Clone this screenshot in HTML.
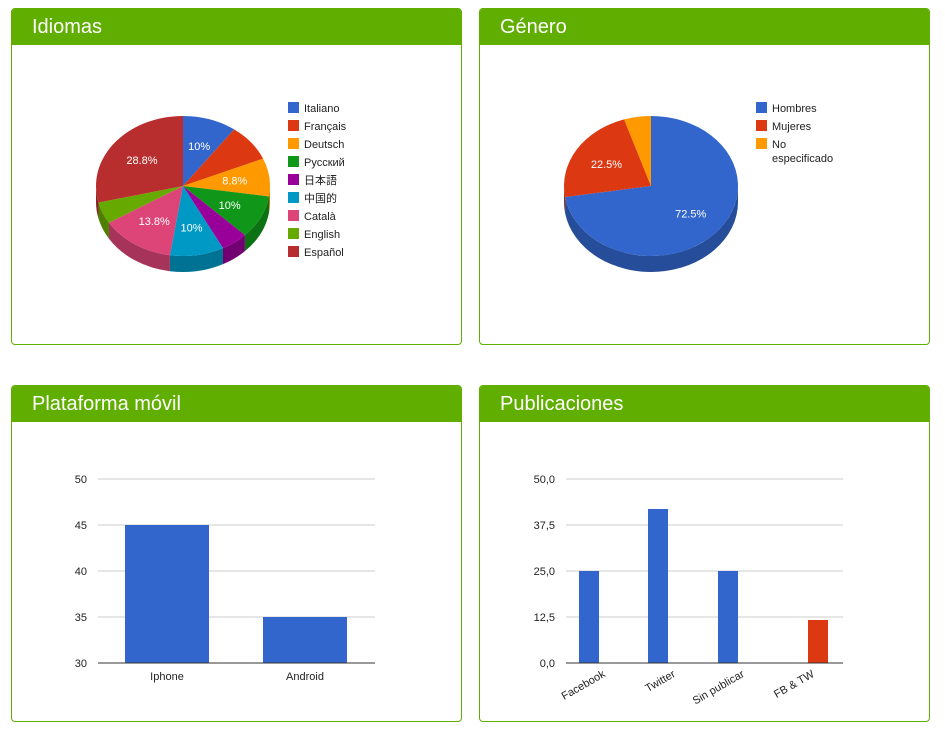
<!DOCTYPE html>
<html><head><meta charset="utf-8"><style>
body{margin:0;background:#fff;width:945px;height:747px;overflow:hidden;font-family:"Liberation Sans","Noto Sans CJK JP",sans-serif}
.p{position:absolute;border:1px solid #5fae00;border-radius:4px;background:#fff;width:449px;height:335px}
.h{background:#5fae00;height:36px;color:#fff;font-size:20px;line-height:36px;padding-left:20px;border-radius:3px 3px 0 0}
svg{position:absolute;left:0;top:0}
</style></head><body>
<div class="p" style="left:11px;top:8px"><div class="h">Idiomas</div></div>
<div class="p" style="left:479px;top:8px"><div class="h">Género</div></div>
<div class="p" style="left:11px;top:385px"><div class="h">Plataforma móvil</div></div>
<div class="p" style="left:479px;top:385px"><div class="h">Publicaciones</div></div>
<svg id="s" width="945" height="747" font-family="Liberation Sans, Noto Sans CJK JP, sans-serif" font-size="11">
<g fill="#222">
<g stroke="#ccc"><line x1="98" x2="375" y1="479" y2="479"/><line x1="98" x2="375" y1="525" y2="525"/><line x1="98" x2="375" y1="571" y2="571"/><line x1="98" x2="375" y1="617" y2="617"/>
<line x1="566" x2="843" y1="479" y2="479"/><line x1="566" x2="843" y1="525" y2="525"/><line x1="566" x2="843" y1="571" y2="571"/><line x1="566" x2="843" y1="617" y2="617"/></g>
<text x="87" y="483" text-anchor="end">50</text><text x="87" y="529" text-anchor="end">45</text><text x="87" y="575" text-anchor="end">40</text><text x="87" y="621" text-anchor="end">35</text><text x="87" y="667" text-anchor="end">30</text>
<rect x="125" y="525" width="84" height="138" fill="#3366cc"/><rect x="263" y="617" width="84" height="46" fill="#3366cc"/>
<line x1="98" x2="375" y1="663" y2="663" stroke="#333"/>
<text x="167" y="680" text-anchor="middle">Iphone</text><text x="305" y="680" text-anchor="middle">Android</text>
<text x="555" y="483" text-anchor="end">50,0</text><text x="555" y="529" text-anchor="end">37,5</text><text x="555" y="575" text-anchor="end">25,0</text><text x="555" y="621" text-anchor="end">12,5</text><text x="555" y="667" text-anchor="end">0,0</text>
<rect x="579" y="571" width="20" height="92" fill="#3366cc"/><rect x="648" y="509" width="20" height="154" fill="#3366cc"/><rect x="718" y="571" width="20" height="92" fill="#3366cc"/><rect x="808" y="620" width="20" height="43" fill="#dc3912"/>
<line x1="566" x2="843" y1="663" y2="663" stroke="#333"/>
<text transform="translate(606,676) rotate(-30)" text-anchor="end">Facebook</text>
<text transform="translate(676,676) rotate(-30)" text-anchor="end">Twitter</text>
<text transform="translate(745,676) rotate(-30)" text-anchor="end">Sin publicar</text>
<text transform="translate(815,676) rotate(-30)" text-anchor="end">FB &amp; TW</text>
</g>
<g id="pies"></g>
</svg>
<script>
function dk(c,f){var n=parseInt(c.slice(1),16),r=n>>16,g=n>>8&255,b=n&255;return 'rgb('+Math.round(r*f)+','+Math.round(g*f)+','+Math.round(b*f)+')'}
function pie(cx,cy,rx,ry,d,data,lx,ly,legend){
 var s='',a=0,tot=0;data.forEach(function(x){tot+=x[0]});
 function P(t,dy){return [cx+rx*Math.sin(t),cy-ry*Math.cos(t)+(dy||0)]}
 var side='',top='',lab='';
 data.forEach(function(x){var a1=a,a2=a+x[0]/tot*2*Math.PI;a=a2;
  var p1=P(a1),p2=P(a2),lg=(a2-a1)>Math.PI?1:0;
  top+='<path d="M'+cx+','+cy+'L'+p1+'A'+rx+','+ry+' 0 '+lg+' 1 '+p2+'Z" fill="'+x[1]+'"/>';
  var s1=Math.max(a1,Math.PI/2),s2=Math.min(a2,1.5*Math.PI);
  if(s2>s1){var q1=P(s1),q2=P(s2),q3=P(s2,d),q4=P(s1,d);
   side+='<path d="M'+q1+'A'+rx+','+ry+' 0 0 1 '+q2+'L'+q3+'A'+rx+','+ry+' 0 0 0 '+q4+'Z" fill="'+dk(x[1],0.75)+'"/>';}
  if(x[2]){var m=(a1+a2)/2,pt=[cx+rx*0.6*Math.sin(m),cy-ry*0.6*Math.cos(m)+4];
   lab+='<text x="'+pt[0]+'" y="'+pt[1]+'" fill="#fff" text-anchor="middle">'+x[2]+'</text>';}
 });
 var lg='';legend.forEach(function(l,i){lg+='<rect x="'+lx+'" y="'+(ly+i*18)+'" width="11" height="11" fill="'+l[1]+'"/>';
  l[0].split('|').forEach(function(t,j){lg+='<text x="'+(lx+16)+'" y="'+(ly+i*18+10+j*14)+'" fill="#222">'+t+'</text>'})});
 return side+top+lab+lg;
}
var c1=[[10,'#3366cc','10%'],[8.6,'#dc3912'],[8.8,'#ff9900','8.8%'],[10,'#109618','10%'],[5,'#990099'],[10,'#0099c6','10%'],[13.8,'#dd4477','13.8%'],[5,'#66aa00'],[28.8,'#b82e2e','28.8%']];
var n1=['Italiano','Français','Deutsch','Русский','日本語','中国的','Català','English','Español'];
var h=pie(183,186,87,70,16,c1,288,102,n1.map(function(n,i){return [n,c1[i][1]]}));
var c2=[[72.5,'#3366cc','72.5%'],[22.5,'#dc3912','22.5%'],[5,'#ff9900']];
h+=pie(651,186,87,70,16,c2,756,102,[['Hombres','#3366cc'],['Mujeres','#dc3912'],['No|especificado','#ff9900']]);
document.getElementById('pies').innerHTML=h;
</script>
</body></html>
